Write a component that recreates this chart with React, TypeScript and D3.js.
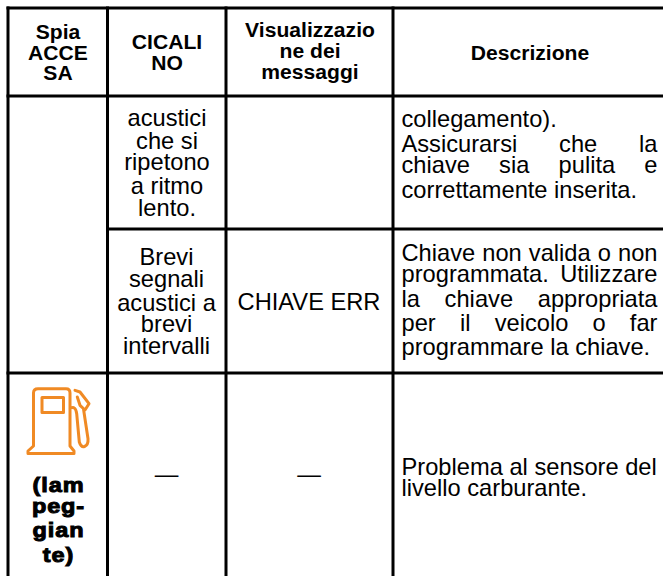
import React, { useEffect, useRef } from "react";
import * as d3 from "d3";

const columns = ["spia", "cicalino", "messaggi", "descrizione"];
const rows = ["header", "continua", "chiave", "carburante"];

const headerSpia = ["Spia", "ACCE", "SA"];
const headerCicalino = ["CICALI", "NO"];
const headerMessaggi = ["Visualizzazio", "ne dei", "messaggi"];
const headerDescrizione = ["Descrizione"];

const cicalinoContinua = ["acustici", "che si", "ripetono", "a ritmo", "lento."];
const cicalinoChiave = ["Brevi", "segnali", "acustici a", "brevi", "intervalli"];
const messaggioChiave = ["CHIAVE ERR"];
const lampeggiante = ["(lam", "peg-", "gian", "te)"];

const descContinua = [
  "collegamento).",
  "Assicurarsi che la",
  "chiave sia pulita e",
  "correttamente inserita.",
];
const descChiave = [
  "Chiave non valida o non",
  "programmata. Utilizzare",
  "la chiave appropriata",
  "per il veicolo o far",
  "programmare la chiave.",
];
const descCarburante = ["Problema al sensore del", "livello carburante."];

const W = 663;
const H = 576;
const STRETCH = 1.03;
const FONT = "'Liberation Sans', Arial, sans-serif";

const colEdges = d3.scaleOrdinal<string, number>().domain(columns).range([8, 107.5, 226, 393]);
const rowEdges = d3.scaleOrdinal<string, number>().domain(rows).range([8, 96, 229, 373]);

const App = () => {
  const ref = useRef<SVGSVGElement>(null);

  useEffect(() => {
    const svg = d3.select(ref.current);
    svg.selectAll("*").remove();

    const line = (x1: number, y1: number, x2: number, y2: number) =>
      svg
        .append("line")
        .attr("x1", x1)
        .attr("y1", y1)
        .attr("x2", x2)
        .attr("y2", y2)
        .attr("stroke", "#000")
        .attr("stroke-width", 3);

    // griglia
    line(6.5, rowEdges("header"), W, rowEdges("header"));
    line(6.5, rowEdges("continua"), W, rowEdges("continua"));
    line(colEdges("cicalino"), rowEdges("chiave"), W, rowEdges("chiave"));
    line(6.5, rowEdges("carburante"), W, rowEdges("carburante"));
    columns.forEach((c) => line(colEdges(c), 6.5, colEdges(c), H));

    const centered = (
      lines: string[],
      cx: number,
      baselines: number[],
      size: number,
      weight = "normal",
      stroke = 0,
      stretch = STRETCH,
    ) => {
      svg
        .append("g")
        .selectAll("text")
        .data(lines)
        .join("text")
        .attr("transform", (_, i) => `translate(${cx},${baselines[i]}) scale(${stretch},1)`)
        .attr("text-anchor", "middle")
        .attr("font-family", FONT)
        .attr("font-size", size)
        .attr("font-weight", weight)
        .attr("letter-spacing", stroke ? 0.8 : 0)
        .attr("fill", "#000")
        .attr("stroke", stroke ? "#000" : "none")
        .attr("stroke-width", stroke)
        .text((d) => d);
    };

    const justified = (lines: string[], left: number, baselines: number[], fit: boolean[]) => {
      const right = 657.5;
      svg
        .append("g")
        .selectAll("text")
        .data(lines)
        .join("text")
        .attr("transform", (_, i) => `translate(${left},${baselines[i]}) scale(${STRETCH},1)`)
        .attr("font-family", FONT)
        .attr("font-size", 23)
        .attr("fill", "#000")
        .text((d) => d)
        .each(function (d, i) {
          if (!fit[i]) return;
          const gaps = d.split(" ").length - 1;
          const used = (this as SVGTextElement).getComputedTextLength();
          const extra = ((right - left) / STRETCH - used) / gaps;
          d3.select(this).attr("word-spacing", extra);
        });
    };

    // intestazione
    centered(headerSpia, 58, [39, 60, 80], 20.5, "bold");
    centered(headerCicalino, 167, [49, 70], 20.5, "bold");
    centered(headerMessaggi, 310, [37, 58, 79], 20.5, "bold");
    centered(headerDescrizione, 530, [60], 20.5, "bold");

    // cicalino
    centered(cicalinoContinua, 167, [125.5, 149, 169.5, 193.5, 215.5], 23);
    centered(cicalinoChiave, 166.5, [265, 287, 311, 332, 354], 23);
    centered(messaggioChiave, 309, [310], 23);
    centered(["—"], 166.5, [482], 23);
    centered(["—"], 309, [482], 23);

    // descrizione
    justified(descContinua, 401.5, [127, 152, 173, 198], [false, true, true, false]);
    justified(descChiave, 401.5, [261, 282, 307, 331, 355], [true, true, true, true, false]);
    justified(descCarburante, 401.5, [475, 496], [false, false]);

    // pompa carburante
    const pump = d3.path();
    pump.moveTo(33.5, 446);
    pump.lineTo(33.5, 393);
    pump.quadraticCurveTo(33.5, 388.7, 38, 388.7);
    pump.lineTo(66, 388.7);
    pump.quadraticCurveTo(70, 388.7, 70, 393);
    pump.lineTo(70, 446);
    pump.lineTo(74, 451);
    pump.lineTo(74, 453.5);
    pump.lineTo(28, 453.5);
    pump.lineTo(28, 451);
    pump.lineTo(33.5, 446);
    pump.closePath();
    pump.moveTo(42, 397.5);
    pump.lineTo(63.5, 397.5);
    pump.lineTo(63.5, 412.5);
    pump.lineTo(42, 412.5);
    pump.closePath();
    pump.moveTo(70, 408.7);
    pump.quadraticCurveTo(75.5, 405, 76.7, 413.7);
    pump.lineTo(79.3, 442);
    pump.quadraticCurveTo(81, 447.5, 84.5, 446.5);
    pump.quadraticCurveTo(88.5, 445, 88, 438.7);
    pump.lineTo(83.5, 409);
    pump.moveTo(75, 390.3);
    pump.lineTo(80, 392);
    pump.lineTo(89, 403.7);
    pump.lineTo(85, 410);
    pump.lineTo(80, 405.3);
    pump.lineTo(77.3, 397);
    svg
      .append("path")
      .attr("d", pump.toString())
      .attr("fill", "none")
      .attr("stroke", "#f08a24")
      .attr("stroke-width", 3)
      .attr("stroke-linejoin", "round")
      .attr("stroke-linecap", "round");

    centered(lampeggiante, 58.5, [492, 513, 537, 562], 21, "bold", 1, 1.12);
  }, []);

  return (
    <svg
      ref={ref}
      width={W}
      height={H}
      viewBox={`0 0 ${W} ${H}`}
      style={{ position: "absolute", left: 0, top: 0, background: "#fff" }}
    ></svg>
  );
};

export default App;
